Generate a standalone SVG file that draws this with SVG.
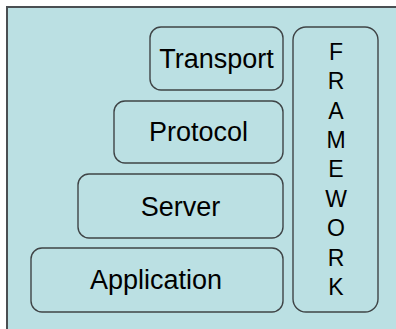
<svg xmlns="http://www.w3.org/2000/svg" width="396" height="329" viewBox="0 0 396 329">
<style>
.bg{fill:#BBE0E3;stroke:#4a4f52;stroke-width:2}
.box{fill:#BBE0E3;stroke:#3f4446;stroke-width:1.4}
.t{font-family:"Liberation Sans",Arial,sans-serif;font-size:27px;fill:#000;text-anchor:middle}
.f{font-family:"Liberation Sans",Arial,sans-serif;font-size:23px;fill:#000;text-anchor:middle}
</style>
<rect width="396" height="329" fill="#fff"/>
<rect class="bg" x="7" y="7" width="400" height="330"/>
<g id="transport">
<rect class="box" x="150" y="27" width="133" height="63" rx="11"/>
<text class="t" x="216.5" y="68">Transport</text>
</g>
<g id="protocol">
<rect class="box" x="114" y="101" width="169" height="62" rx="11"/>
<text class="t" x="198.5" y="141">Protocol</text>
</g>
<g id="server">
<rect class="box" x="78" y="174" width="205" height="64" rx="11"/>
<text class="t" x="180.5" y="215.5">Server</text>
</g>
<g id="application">
<rect class="box" x="31" y="248" width="252" height="64" rx="11"/>
<text class="t" x="156" y="289">Application</text>
</g>
<g id="framework">
<rect class="box" x="293" y="27" width="85" height="285" rx="13"/>
<text class="f" x="336" y="59.5">F</text>
<text class="f" x="336" y="89">R</text>
<text class="f" x="336" y="118.5">A</text>
<text class="f" x="336" y="148">M</text>
<text class="f" x="336" y="177">E</text>
<text class="f" x="336" y="206.5">W</text>
<text class="f" x="336" y="236">O</text>
<text class="f" x="336" y="265.5">R</text>
<text class="f" x="336" y="295">K</text>
</g>
<g id="connectors"></g>
</svg>
